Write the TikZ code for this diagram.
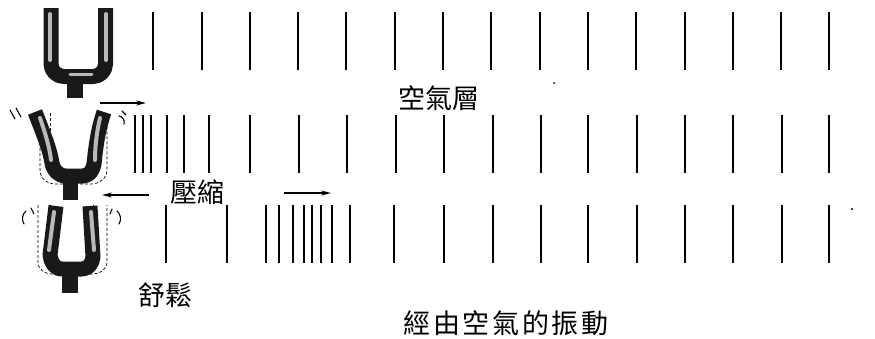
\documentclass[tikz,border=0pt]{standalone}
\usepackage{fontspec}
\newfontfamily\cjk{Noto Sans CJK TC}
\newfontfamily\cjkwide[LetterSpace=10]{Noto Sans CJK TC}
\usetikzlibrary{arrows.meta}
\begin{document}
\begin{tikzpicture}[x=1pt,y=-1pt,
  wave/.style={line width=1.7pt},
  prong/.style={line width=15pt, black!90, line cap=butt, line join=round},
  shine/.style={line width=4pt, gray!55, line cap=round},
  rest/.style={dashed, dash pattern=on 3pt off 2pt, line width=0.7pt},
  push/.style={line width=1.3pt, -{Stealth[length=10pt,width=5pt]}},
  lbl/.style={font=\cjk\fontsize{27}{27}\selectfont, inner sep=0pt},
  wiggle/.style={line width=1.1pt, line cap=round}]
\useasboundingbox (0,0) rectangle (875,338);

% air layers: evenly spaced at rest
\foreach \x in {153,202,250,298,346,395,443,491,540,588,636,685,733,781,829}
  \draw[wave] (\x,12) -- (\x,70);
% compression leaving the fork
\foreach \x in {135,143,151,167,184,209,250,299,347,396,444,493,541,588,637,685,733,782,829}
  \draw[wave] (\x,115) -- (\x,173);
% rarefaction near the fork, compression travelling outward
\foreach \x in {166,227,266,279,293,304,312,321,332,350,394,444,493,541,588,637,685,733,782,829}
  \draw[wave] (\x,205) -- (\x,263);

% fork at rest
\draw[prong] (51,8) -- (51,64) to[out=-90,in=180] (64,76.5) -- (93,76.5)
  to[out=0,in=-90] (105.5,64) -- (105.5,8);
\fill[black!90] (67,80) rectangle (83,98);
\draw[shine] (50,14) -- (50,60);
\draw[shine] (106,14) -- (106,60);
\draw[shine, line width=3pt] (70,74) -- (92,74);

% fork with prongs swung outward
\draw[rest] (40,113) -- (40,170) to[out=-90,in=180] (55,184) -- (91,184)
  to[out=0,in=-90] (107,170) -- (107,113);
\draw[rest] (50,113) -- (50,164);
\draw[rest] (97,113) -- (97,164);
\draw[prong] (35,112) .. controls (44,135) and (50,150) .. (52,163)
  to[out=-80,in=180] (66,176) -- (83,176) to[out=0,in=-100] (94,164)
  .. controls (96,145) and (98,130) .. (104,112);
\fill[black!90] (63,180) rectangle (78,200);
\draw[shine] (40,118) .. controls (46,135) and (50,150) .. (51,160);
\draw[shine] (100,118) .. controls (96,135) and (95,150) .. (95,160);
\draw[wiggle] (10,110) -- (15,119);
\draw[wiggle] (16,108) -- (21,117);
\draw[wiggle] (119,116) to[bend left=50] (124,124);
\draw[wiggle] (122,111) -- (126,115);

% fork with prongs swung inward
\draw[rest] (38,205) -- (38,262) to[out=-90,in=180] (52,274) -- (93,274)
  to[out=0,in=-90] (107,262) -- (107,205);
\draw[rest] (50,205) -- (50,258);
\draw[rest] (93,205) -- (93,258);
\draw[prong] (56,206) -- (50,255) to[out=-85,in=180] (62,269) -- (82,269)
  to[out=0,in=-95] (93,257) -- (90,206);
\fill[black!90] (62,273) rectangle (78,293);
\draw[shine] (54,212) -- (49,250);
\draw[shine] (91,212) -- (94,250);
\draw[wiggle] (26,211) to[bend right=40] (24,224);
\draw[wiggle] (31,208) -- (34,214);
\draw[wiggle] (117,211) to[bend left=40] (119,224);
\draw[wiggle] (112,209) -- (110,214);

% direction of the pressure changes
\coordinate (p1a) at (100,103);
\coordinate (p1b) at (146,103);
\coordinate (p2a) at (149,195);
\coordinate (p2b) at (102,195);
\coordinate (p3a) at (284,193);
\coordinate (p3b) at (331,193);
\draw[push] (p1a) -- (p1b);
\draw[push] (p2a) -- (p2b);
\draw[push] (p3a) -- (p3b);

% labels
\node[lbl] (air) at (439,98) {空氣層};
\node[lbl] (comp) at (197,192) {壓縮};
\node[lbl] (rel) at (165,295) {舒鬆};
\node[lbl, font=\cjkwide\fontsize{27}{27}\selectfont] (title) at (506,323) {經由空氣的振動};

% specks
\fill (554,83) circle (1);
\fill (852,209) circle (1.2);
\end{tikzpicture}
\end{document}
